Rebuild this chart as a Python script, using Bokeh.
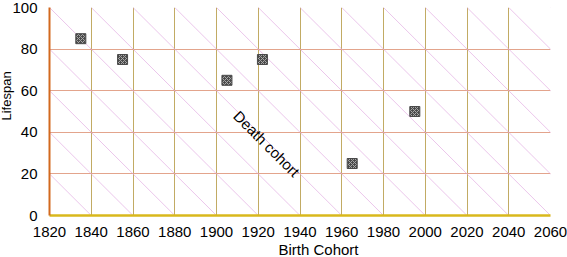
from bokeh.plotting import figure
from bokeh.models import Label, Range1d, FixedTicker, Title
from bokeh.embed import file_html
from bokeh.resources import INLINE

birth_cohort = [1835, 1855, 1905, 1922, 1965, 1995]
lifespan = [85, 75, 65, 75, 25, 50]
x_ticks = [1820, 1840, 1860, 1880, 1900, 1920, 1940, 1960, 1980, 2000, 2020, 2040, 2060]
y_ticks = [0, 20, 40, 60, 80, 100]
death_cohorts = [1840, 1860, 1880, 1900, 1920, 1940, 1960, 1980, 2000, 2020, 2040, 2060, 2080, 2100, 2120, 2140, 2160]

FONT = "Liberation Sans"

p = figure(width=567, height=257, output_backend="svg", toolbar_location=None,
           x_range=Range1d(1820, 2060), y_range=Range1d(0, 100),
           min_border_top=7, min_border_right=17, min_border_left=49, min_border_bottom=0)
p.outline_line_color = None
p.background_fill_color = "white"

# Lexis diagonals (death cohorts)
p.segment(x0=[d - 100 for d in death_cohorts], y0=[100] * len(death_cohorts),
          x1=death_cohorts, y1=[0] * len(death_cohorts),
          line_color="#dda0dd", line_width=0.8, line_alpha=0.75)

p.xgrid.ticker = FixedTicker(ticks=x_ticks)
p.ygrid.ticker = FixedTicker(ticks=y_ticks)
p.xgrid.grid_line_color = "#c2ab64"
p.xgrid.grid_line_width = 1
p.ygrid.grid_line_color = "#e3a48c"
p.ygrid.grid_line_width = 1

p.xaxis.ticker = FixedTicker(ticks=x_ticks)
p.yaxis.ticker = FixedTicker(ticks=y_ticks)
for ax in (p.xaxis, p.yaxis):
    ax.major_tick_line_color = None
    ax.minor_tick_line_color = None
    ax.major_label_text_font = FONT
    ax.major_label_text_font_size = "15px"
    ax.major_label_text_color = "black"
p.xaxis.major_label_standoff = 5
p.yaxis.major_label_standoff = 6
p.xaxis.axis_line_color = "#d9b81c"
p.xaxis.axis_line_width = 2.5
p.yaxis.axis_line_color = "#d2691e"
p.yaxis.axis_line_width = 2

p.add_layout(Title(text="Birth Cohort", align="left", offset=229, standoff=-1,
                   text_font=FONT, text_font_size="15px", text_font_style="normal",
                   text_color="black"), "below")
p.add_layout(Title(text="Lifespan", align="left", offset=95, standoff=-8,
                   text_font=FONT, text_font_size="13px", text_font_style="normal",
                   text_color="black"), "left")

p.scatter(birth_cohort, lifespan, marker="square", size=10,
          fill_color="#4a4a4a", line_color="#4a4a4a",
          hatch_pattern="diagonal_cross", hatch_color="#a8a8a8",
          hatch_scale=4, hatch_weight=1)

p.add_layout(Label(x=1924, y=34.5, text="Death cohort", angle=-45, angle_units="deg",
                   text_align="center", text_baseline="middle",
                   text_font=FONT, text_font_size="15px", text_color="black"))

open("out.html", "w").write(file_html(p, INLINE))
